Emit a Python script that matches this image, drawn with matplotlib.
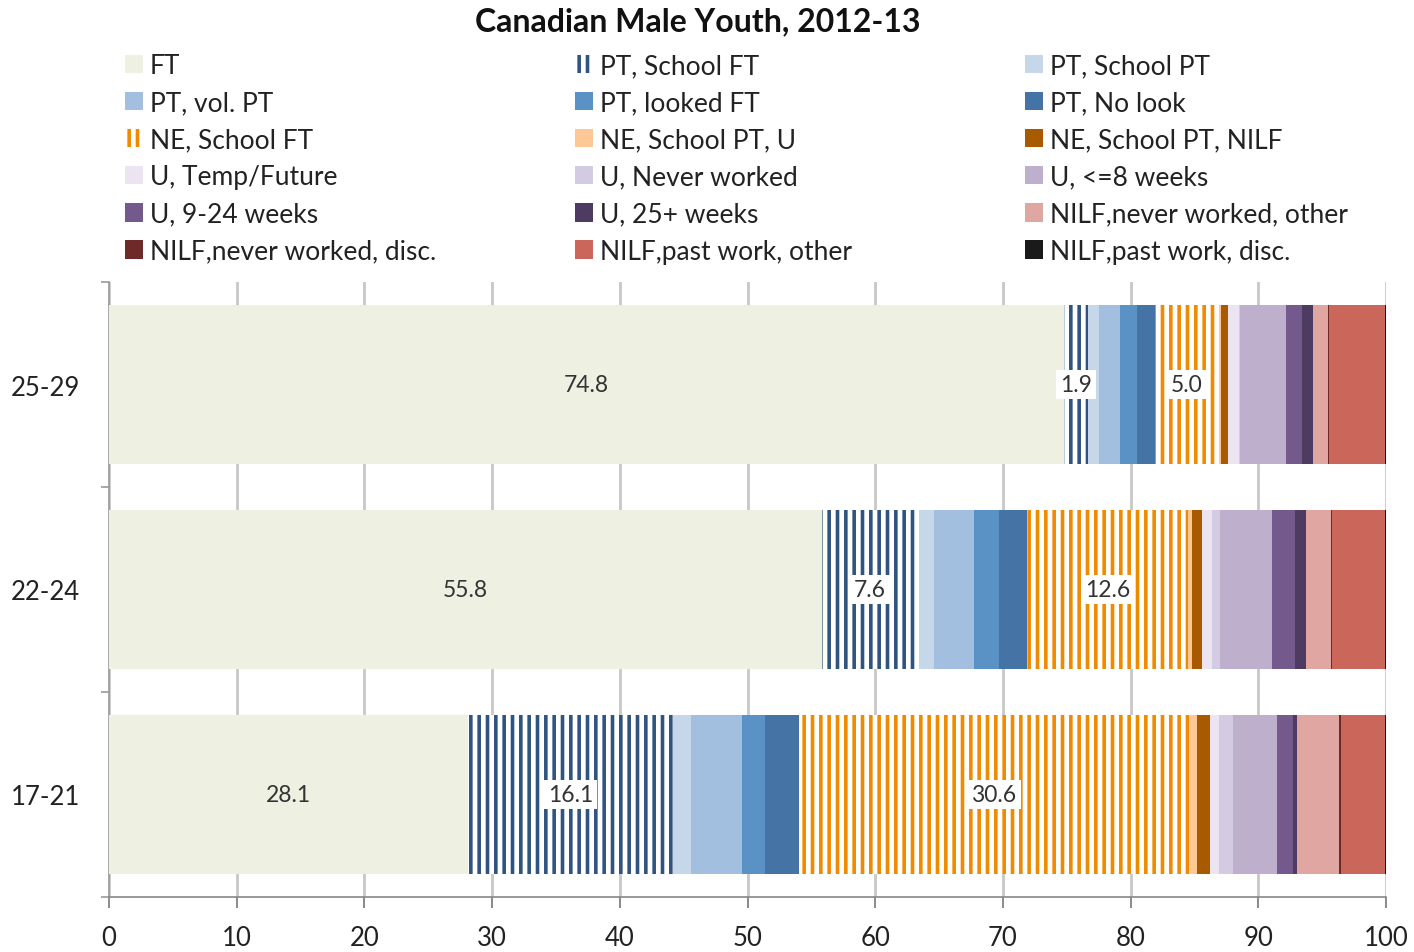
import matplotlib.pyplot as plt
from matplotlib.patches import Patch
import numpy as np

plt.rcParams['font.family'] = ['Lato', 'DejaVu Sans']
plt.rcParams['hatch.linewidth'] = 2.6

# -----------------------------
# Data
# -----------------------------
categories = ["17-21", "22-24", "25-29"]

series_names = [
    "FT", "PT, School FT", "PT, School PT",
    "PT, vol. PT", "PT, looked FT", "PT, No look",
    "NE, School FT", "NE, School PT, U", "NE, School PT, NILF",
    "U, Temp/Future", "U, Never worked", "U, <=8 weeks",
    "U, 9-24 weeks", "U, 25+ weeks", "NILF,never worked, other",
    "NILF,never worked, disc.", "NILF,past work, other", "NILF,past work, disc.",
]

# one list per series: [17-21, 22-24, 25-29]
ft = [28.1, 55.8, 74.8]
pt_school_ft = [16.1, 7.6, 1.9]
pt_school_pt = [1.4, 1.2, 0.8]
pt_vol_pt = [4.0, 3.1, 1.7]
pt_looked_ft = [1.8, 2.0, 1.3]
pt_no_look = [2.6, 2.2, 1.4]
ne_school_ft = [30.6, 12.6, 5.0]
ne_school_pt_u = [0.6, 0.3, 0.2]
ne_school_pt_nilf = [1.0, 0.8, 0.55]
u_temp = [0.7, 0.8, 0.8]
u_never = [1.1, 0.6, 0.1]
u_le8 = [3.45, 4.1, 3.6]
u_9_24 = [1.3, 1.8, 1.3]
u_25p = [0.3, 0.8, 0.8]
nilf_nw_other = [3.3, 2.0, 1.2]
nilf_nw_disc = [0.1, 0.05, 0.05]
nilf_pw_other = [3.5, 4.15, 4.4]
nilf_pw_disc = [0.05, 0.1, 0.1]

values = [ft, pt_school_ft, pt_school_pt, pt_vol_pt, pt_looked_ft, pt_no_look,
          ne_school_ft, ne_school_pt_u, ne_school_pt_nilf, u_temp, u_never,
          u_le8, u_9_24, u_25p, nilf_nw_other, nilf_nw_disc, nilf_pw_other,
          nilf_pw_disc]

colors = [
    "#eef0e1", "#2f5480", "#c5d7e8",
    "#a2bfdf", "#5b92c6", "#4573a6",
    "#f08a00", "#fdc896", "#a85a00",
    "#ece4f1", "#d3cbe2", "#beafcd",
    "#745a8c", "#4e3b62", "#e0a6a2",
    "#6e2a28", "#cb665b", "#1a1a1a",
]
hatched = {1, 6}
labelled = {0, 1, 6}

# -----------------------------
# Plot
# -----------------------------
fig = plt.figure(figsize=(14.14, 9.53), dpi=100)
ax = fig.add_axes([109 / 1414, 1 - 898 / 953, (1386 - 109) / 1414, (898 - 283) / 953])

y = np.arange(len(categories))
left = np.zeros(len(categories))
handles = []
for i, (name, vals, c) in enumerate(zip(series_names, values, colors)):
    vals = np.array(vals)
    if i in hatched:
        ax.barh(y, vals, left=left, height=0.78, color="white",
                edgecolor=c, hatch="||", linewidth=0, zorder=3)
        handles.append(Patch(facecolor="white", edgecolor=c, hatch="||", linewidth=0))
    else:
        ax.barh(y, vals, left=left, height=0.78, color=c, linewidth=0, zorder=3)
        handles.append(Patch(facecolor=c, linewidth=0))
    if i in labelled:
        for yy, l0, v in zip(y, left, vals):
            kw = {}
            if i in hatched:
                kw["bbox"] = dict(facecolor="white", edgecolor="none", pad=3)
            ax.text(l0 + v / 2, yy, f"{v:.1f}", ha="center", va="center",
                    fontsize=16.5, color="#333333", zorder=5, **kw)
    left += vals

ax.set_xlim(0, 100)
ax.set_ylim(-0.5, 2.5)
ax.set_xticks(np.arange(0, 101, 10))
ax.set_yticks(y)
ax.set_yticklabels(categories)
ax.set_yticks([-0.5, 0.5, 1.5, 2.5], minor=True)
ax.tick_params(axis="y", which="major", length=0, pad=21, labelsize=18.5, labelcolor="#222222")
ax.tick_params(axis="y", which="minor", length=6, width=1.2, color="#999999")
ax.tick_params(axis="x", length=8, width=1.2, color="#777777", pad=12,
               labelsize=18.5, labelcolor="#222222")
ax.grid(axis="x", color="#c8c8c8", linewidth=2, zorder=0)
ax.set_axisbelow(True)
for s in ["top", "right"]:
    ax.spines[s].set_visible(False)
ax.spines["left"].set_color("#999999")
ax.spines["left"].set_linewidth(1.2)
ax.spines["bottom"].set_color("#888888")
ax.spines["bottom"].set_linewidth(1.2)

fig.text(698 / 1414, 1 - 22 / 953, "Canadian Male Youth, 2012-13", ha="center", va="center",
         fontsize=23, fontweight="bold", color="#111111")

# legend: three columns filled row by row
col_x = [125 / 1414, 575 / 1414, 1025 / 1414]
for k in range(3):
    idx = list(range(k, len(series_names), 3))
    leg = fig.legend([handles[j] for j in idx], [series_names[j] for j in idx],
                     loc="upper left", bbox_to_anchor=(col_x[k], 1 - 54 / 953),
                     frameon=False, fontsize=19, handlelength=0.7, handleheight=0.7,
                     handletextpad=0.25, labelspacing=0.46, borderpad=0,
                     borderaxespad=0)
    for t in leg.get_texts():
        t.set_color("#222222")

plt.savefig("out.png", dpi=100)
